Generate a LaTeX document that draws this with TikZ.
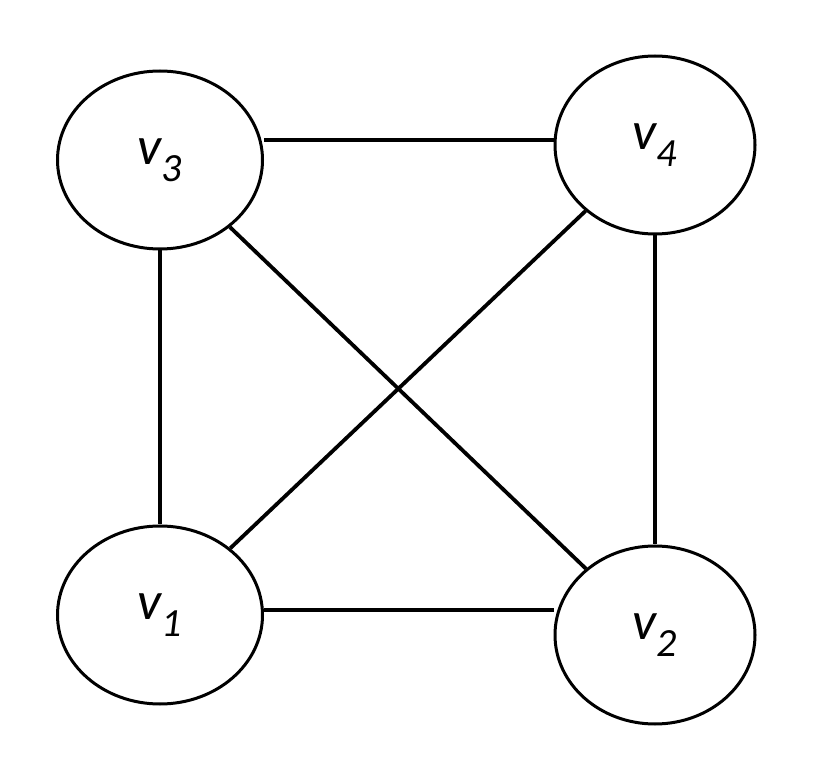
\documentclass[tikz,border=0pt]{standalone}
\usepackage{fontspec}
\setmainfont{Carlito}
\usetikzlibrary{shapes.geometric}
\begin{document}
\begin{tikzpicture}[x=1pt,y=1pt,
  vtx/.style={draw,ellipse,line width=3pt,minimum width=205pt,minimum height=178pt,inner sep=0pt,font=\fontsize{54}{58}\selectfont\itshape},
  edge/.style={line width=3.8pt}]
\useasboundingbox (0,0) rectangle (817,764);
\node[vtx] (v3) at (160,604) {v\textsubscript{\fontsize{40}{44}\selectfont 3}};
\node[vtx,minimum width=200pt] (v4) at (655,619) {v\textsubscript{\fontsize{40}{44}\selectfont 4}};
\node[vtx] (v1) at (160,149) {v\textsubscript{\fontsize{40}{44}\selectfont 1}};
\node[vtx,minimum width=200pt] (v2) at (655,129) {v\textsubscript{\fontsize{40}{44}\selectfont 2}};
\draw[edge] (v3.east|-0,624) -- (v4.west|-0,624);
\draw[edge] (v1.east|-0,154) -- (v2.west|-0,154);
\draw[edge] (v3) -- (v1);
\draw[edge] (v4) -- (v2);
\draw[edge] (v3) -- (v2);
\draw[edge] (v4) -- (v1);
\end{tikzpicture}
\end{document}
